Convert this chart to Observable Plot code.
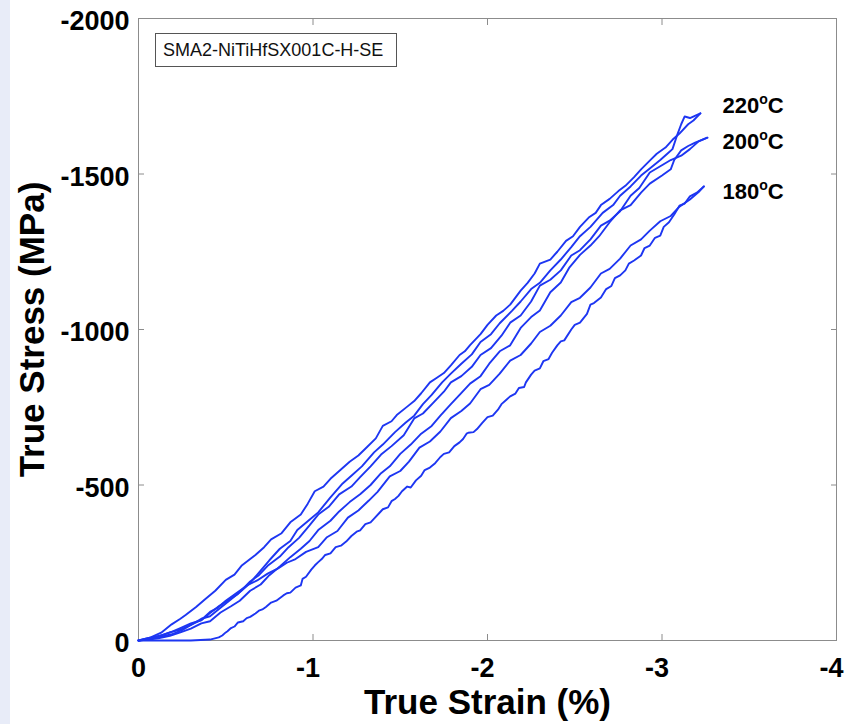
<!DOCTYPE html>
<html><head><meta charset="utf-8">
<script src="https://cdn.jsdelivr.net/npm/d3@7"></script>
<script src="https://cdn.jsdelivr.net/npm/@observablehq/plot@0.6"></script>
<style>
html,body{margin:0;padding:0;background:#fff;}
#wrap{position:relative;width:845px;height:724px;overflow:hidden;background:#fff;}
#strip{position:absolute;left:0;top:0;width:10px;height:724px;background:#e8ecf8;}
#chart{position:absolute;left:0;top:0;}
#legend{position:absolute;left:155px;top:33px;width:242px;height:34px;border:1px solid #555;box-sizing:border-box;font:18px "Liberation Sans",Arial,sans-serif;line-height:32px;padding-left:7px;color:#111;background:#fff;white-space:nowrap;}
</style></head><body>
<div id="wrap"><div id="strip"></div><div id="chart"></div><div id="legend"></div></div>
<script>
// ---- data (strain in %, stress in MPa) ----
const legendText = "SMA2-NiTiHfSX001C-H-SE";
const xTitle = "True Strain (%)";
const yTitle = "True Stress (MPa)";
const xTicks = [0, -1, -2, -3, -4];
const yTicks = [0, -500, -1000, -1500, -2000];

const strain220Load = [0,-0.07,-0.13,-0.19,-0.24,-0.27,-0.33,-0.38,-0.44,-0.50,-0.55,-0.59,-0.64,-0.67,-0.72,-0.76,-0.82,-0.87,-0.93,-0.97,-1.01,-1.06,-1.10,-1.16,-1.21,-1.26,-1.31,-1.36,-1.40,-1.45,-1.48,-1.54,-1.58,-1.62,-1.67,-1.71,-1.75,-1.79,-1.84,-1.87,-1.90,-1.96,-2.00,-2.05,-2.09,-2.13,-2.19,-2.23,-2.27,-2.30,-2.36,-2.40,-2.45,-2.49,-2.53,-2.58,-2.62,-2.65,-2.70,-2.75,-2.79,-2.84,-2.88,-2.93,-2.97,-3.02,-3.06,-3.10,-3.15,-3.18,-3.22];
const stress220Load = [0,-10,-25,-52,-70,-82,-108,-132,-160,-195,-212,-240,-262,-275,-300,-325,-345,-380,-405,-440,-480,-495,-520,-550,-575,-595,-622,-650,-690,-705,-725,-752,-770,-795,-830,-845,-860,-885,-918,-930,-950,-985,-1015,-1045,-1060,-1080,-1125,-1150,-1180,-1212,-1225,-1250,-1285,-1300,-1330,-1360,-1375,-1400,-1420,-1445,-1462,-1490,-1515,-1543,-1565,-1585,-1610,-1630,-1660,-1672,-1695];

const strain220Unload = [-3.22,-3.16,-3.13,-3.11,-3.09,-3.06,-3.04,-2.99,-2.93,-2.88,-2.82,-2.76,-2.72,-2.66,-2.59,-2.53,-2.48,-2.42,-2.36,-2.30,-2.25,-2.19,-2.14,-2.07,-2.02,-1.96,-1.91,-1.85,-1.79,-1.74,-1.68,-1.63,-1.58,-1.53,-1.47,-1.40,-1.35,-1.28,-1.22,-1.17,-1.10,-1.03,-0.98,-0.91,-0.87,-0.81,-0.75,-0.70,-0.64,-0.59,-0.52,-0.47,-0.41,-0.36,-0.30,-0.24,-0.18,-0.12,-0.07,0];
const stress220Unload = [-1695,-1680,-1685,-1660,-1630,-1580,-1570,-1545,-1518,-1495,-1460,-1430,-1400,-1375,-1330,-1300,-1265,-1225,-1190,-1150,-1130,-1090,-1060,-1020,-985,-960,-920,-890,-858,-830,-790,-760,-723,-700,-670,-630,-605,-560,-530,-505,-460,-412,-388,-355,-320,-295,-258,-225,-185,-160,-128,-105,-78,-70,-50,-35,-26,-15,-6,0];

const strain200Load = [0,-0.06,-0.13,-0.20,-0.24,-0.30,-0.36,-0.41,-0.46,-0.51,-0.57,-0.64,-0.69,-0.74,-0.81,-0.86,-0.92,-0.98,-1.03,-1.09,-1.15,-1.22,-1.27,-1.33,-1.39,-1.45,-1.52,-1.58,-1.63,-1.69,-1.75,-1.79,-1.85,-1.91,-1.96,-2.02,-2.08,-2.13,-2.19,-2.25,-2.30,-2.36,-2.42,-2.48,-2.53,-2.59,-2.65,-2.70,-2.76,-2.82,-2.87,-2.93,-2.99,-3.05,-3.11,-3.16,-3.21,-3.26];
const stress200Load = [0,-8,-16,-30,-40,-55,-65,-88,-110,-128,-150,-190,-210,-240,-270,-300,-330,-370,-405,-430,-470,-495,-525,-560,-598,-625,-660,-714,-730,-765,-800,-830,-850,-880,-918,-940,-980,-1022,-1045,-1090,-1141,-1160,-1190,-1238,-1255,-1290,-1334,-1350,-1380,-1430,-1455,-1505,-1525,-1545,-1559,-1580,-1605,-1617];

const strain200Unload = [-3.26,-3.19,-3.15,-3.11,-3.07,-3.05,-3.00,-2.93,-2.88,-2.82,-2.76,-2.70,-2.64,-2.59,-2.53,-2.47,-2.42,-2.36,-2.30,-2.25,-2.19,-2.13,-2.07,-2.01,-1.96,-1.90,-1.84,-1.79,-1.73,-1.68,-1.62,-1.56,-1.50,-1.44,-1.39,-1.33,-1.27,-1.21,-1.15,-1.10,-1.03,-0.98,-0.93,-0.87,-0.81,-0.75,-0.70,-0.64,-0.58,-0.53,-0.47,-0.41,-0.36,-0.30,-0.24,-0.18,-0.12,-0.06,0];
const stress200Unload = [-1617,-1601,-1590,-1576,-1545,-1515,-1495,-1469,-1440,-1400,-1383,-1345,-1300,-1270,-1240,-1200,-1151,-1120,-1061,-1040,-1005,-949,-930,-890,-850,-826,-790,-760,-723,-690,-665,-630,-600,-560,-538,-500,-470,-445,-415,-385,-355,-320,-295,-268,-238,-210,-180,-160,-128,-110,-90,-62,-55,-38,-26,-15,-8,-3,0];

const strain180Load = [0,-0.06,-0.13,-0.19,-0.25,-0.30,-0.36,-0.41,-0.45,-0.50,-0.56,-0.63,-0.68,-0.74,-0.80,-0.85,-0.90,-0.96,-1.03,-1.08,-1.14,-1.20,-1.26,-1.32,-1.37,-1.44,-1.50,-1.55,-1.61,-1.67,-1.73,-1.79,-1.85,-1.90,-1.96,-2.01,-2.07,-2.13,-2.19,-2.25,-2.30,-2.36,-2.42,-2.48,-2.53,-2.59,-2.65,-2.70,-2.76,-2.82,-2.88,-2.93,-2.99,-3.05,-3.10,-3.16,-3.21,-3.24];
const stress180Load = [0,-5,-12,-20,-33,-50,-66,-92,-104,-128,-152,-180,-193,-215,-232,-250,-262,-285,-300,-332,-352,-395,-418,-450,-478,-528,-545,-575,-620,-640,-672,-715,-738,-762,-808,-822,-858,-900,-918,-955,-992,-1012,-1045,-1088,-1102,-1135,-1180,-1195,-1228,-1270,-1290,-1318,-1348,-1365,-1395,-1418,-1442,-1460];

const strain180Unload = [-3.24,-3.20,-3.16,-3.13,-3.10,-3.07,-3.04,-3.01,-2.99,-2.96,-2.93,-2.90,-2.88,-2.84,-2.81,-2.79,-2.76,-2.73,-2.71,-2.68,-2.65,-2.61,-2.59,-2.57,-2.53,-2.50,-2.48,-2.44,-2.42,-2.40,-2.37,-2.35,-2.32,-2.30,-2.27,-2.25,-2.22,-2.21,-2.18,-2.16,-2.13,-2.11,-2.08,-2.06,-2.03,-2.00,-1.97,-1.94,-1.92,-1.89,-1.88,-1.86,-1.84,-1.81,-1.78,-1.75,-1.73,-1.70,-1.67,-1.64,-1.62,-1.59,-1.56,-1.54,-1.51,-1.49,-1.47,-1.45,-1.43,-1.40,-1.38,-1.35,-1.33,-1.30,-1.27,-1.25,-1.22,-1.19,-1.16,-1.13,-1.10,-1.07,-1.05,-1.03,-1.01,-0.99,-0.96,-0.94,-0.93,-0.90,-0.87,-0.85,-0.83,-0.79,-0.76,-0.73,-0.71,-0.69,-0.67,-0.64,-0.62,-0.60,-0.57,-0.55,-0.53,-0.51,-0.50,-0.48,-0.46,-0.41,-0.30,-0.15,0];
const stress180Unload = [-1460,-1440,-1428,-1405,-1398,-1370,-1345,-1330,-1302,-1295,-1270,-1262,-1238,-1222,-1212,-1190,-1174,-1165,-1140,-1130,-1103,-1085,-1080,-1050,-1022,-1015,-1000,-965,-962,-949,-925,-905,-898,-875,-868,-855,-830,-815,-812,-794,-785,-775,-760,-742,-723,-718,-700,-680,-670,-668,-665,-648,-637,-625,-605,-600,-590,-570,-556,-548,-530,-515,-492,-495,-480,-465,-455,-448,-428,-422,-410,-392,-380,-374,-354,-350,-336,-318,-305,-300,-280,-275,-262,-252,-241,-228,-205,-198,-177,-170,-154,-152,-145,-128,-122,-108,-100,-96,-87,-76,-72,-62,-58,-45,-40,-30,-26,-16,-10,-3,0,0,0];

const tempLabels = ["220", "200", "180"];
const tempLabelStrain = [-3.347, -3.347, -3.347];
const tempLabelStress = [-1719, -1603, -1443];

// ---- build table ----
const series = [
  ["220 load", strain220Load, stress220Load],
  ["220 unload", strain220Unload, stress220Unload],
  ["200 load", strain200Load, stress200Load],
  ["200 unload", strain200Unload, stress200Unload],
  ["180 load", strain180Load, stress180Load],
  ["180 unload", strain180Unload, stress180Unload]
];
const rows = [];
for (const [name, xs, ys] of series) {
  const n = Math.min(xs.length, ys.length);
  for (let i = 0; i < n; i++) rows.push({curve: name, strain: xs[i], stress: ys[i]});
}
const labelRows = tempLabels.map((t, i) => ({t, x: tempLabelStrain[i], y: tempLabelStress[i]}));

const FONT = '"Liberation Sans", Arial, Helvetica, sans-serif';
const GRAY = "#8c8c8c";
const inner = xTicks.filter(d => d !== 0 && d !== -4);
const innerY = yTicks.filter(d => d !== 0 && d !== -2000);
const xZero = xTicks.filter(d => d === 0);
const xNeg = xTicks.filter(d => d !== 0);

const chart = Plot.plot({
  width: 845, height: 724,
  marginLeft: 138, marginRight: 9, marginTop: 18, marginBottom: 84,
  x: {domain: [0, -4]},
  y: {domain: [0, -2000]},
  style: {background: "transparent", fontFamily: FONT, color: "#000", overflow: "visible"},
  marks: [
    Plot.frame({stroke: GRAY, strokeWidth: 1}),
    Plot.axisX(inner, {anchor: "bottom", tickSize: 6, dy: -6, tickFormat: () => "", label: null, stroke: GRAY}),
    Plot.axisX(inner, {anchor: "top", tickSize: 6, dy: 6, tickFormat: () => "", label: null, stroke: GRAY}),
    Plot.axisY(innerY, {anchor: "left", tickSize: 6, dx: 6, tickFormat: () => "", label: null, stroke: GRAY}),
    Plot.axisY(innerY, {anchor: "right", tickSize: 6, dx: -6, tickFormat: () => "", label: null, stroke: GRAY}),
    Plot.axisX(xZero, {anchor: "bottom", tickSize: 0, tickPadding: 17, tickFormat: d => String(d), label: null, fontSize: 27, fontWeight: "bold", fill: "#000"}),
    Plot.axisX(xNeg, {anchor: "bottom", tickSize: 0, tickPadding: 17, dx: -5, tickFormat: d => String(d), label: null, fontSize: 27, fontWeight: "bold", fill: "#000"}),
    Plot.axisY(yTicks, {anchor: "left", tickSize: 0, tickPadding: 9, dy: 3, tickFormat: d => String(d), label: null, fontSize: 27, fontWeight: "bold", fill: "#000"}),
    Plot.line(rows, {x: "strain", y: "stress", z: "curve", stroke: "#1d36f2", strokeWidth: 1.9, strokeLinejoin: "round"}),
    Plot.text(labelRows, {x: "x", y: "y", text: "t", textAnchor: "start", lineAnchor: "middle", fontSize: 22, fontWeight: "bold", fill: "#000"}),
    Plot.text([xTitle], {text: d => d, frameAnchor: "bottom", dy: 73, textAnchor: "middle", fontSize: 35, fontWeight: "bold", fill: "#000"}),
    Plot.text([yTitle], {text: d => d, frameAnchor: "left", dx: -106, rotate: -90, textAnchor: "middle", fontSize: 35, fontWeight: "bold", fill: "#000"})
  ]
});
document.getElementById("chart").appendChild(chart);
document.getElementById("legend").textContent = legendText;

// superscript "o" + "C" after each temperature value
d3.select(chart).selectAll("text").filter(function() {
  if (!tempLabels.includes(this.textContent)) return false;
  const g = this.parentNode;
  return g && g.querySelectorAll("text").length === tempLabels.length;
}).each(function() {
  const t = this.textContent;
  const sel = d3.select(this);
  sel.text(null);
  sel.append("tspan").text(t);
  sel.append("tspan").attr("font-size", 14).attr("dy", -9).text("o");
  sel.append("tspan").attr("dy", 9).text("C");
});
</script>
</body></html>
